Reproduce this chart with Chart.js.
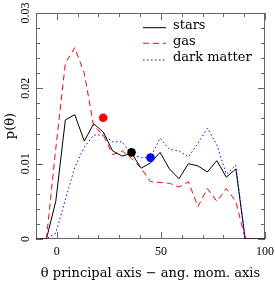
<!DOCTYPE html>
<html>
<head>
<meta charset="utf-8">
<script src="https://cdn.jsdelivr.net/npm/chart.js@4.4.1/dist/chart.umd.min.js"></script>
<style>
  html, body { margin: 0; padding: 0; background: #fff; }
  canvas { display: block; }
</style>
</head>
<body>
<canvas id="c" width="275" height="281"></canvas>
<script>
  // bin positions (deg) and normalised distributions
  const theta = [-10, -5, -0.5, 4.1, 8.6, 13.2, 17.7, 22.3, 26.8, 31.4, 35.9, 40.5, 45, 49.6, 54.1, 58.7, 63.2, 67.8, 72.3, 76.9, 81.4, 86, 90.5, 100];
  const stars = [0, 0, 0.0050, 0.0158, 0.0165, 0.0130, 0.0153, 0.0142, 0.0117, 0.0110, 0.0114, 0.0094, 0.0101, 0.0115, 0.0093, 0.0080, 0.0100, 0.0097, 0.0089, 0.0104, 0.0082, 0.0093, 0, 0];
  const gas = [0, 0, 0.0120, 0.0233, 0.0254, 0.0220, 0.0150, 0.0138, 0.0112, 0.0117, 0.0107, 0.0094, 0.0076, 0.0075, 0.0074, 0.0069, 0.0076, 0.0043, 0.0067, 0.0050, 0.0067, 0.0050, 0, 0];
  const darkMatter = [0, 0, 0.0008, 0.0052, 0.0095, 0.0122, 0.0138, 0.0138, 0.0129, 0.0129, 0.0112, 0.0108, 0.0108, 0.0134, 0.0119, 0.0117, 0.0109, 0.0127, 0.0147, 0.0125, 0.0086, 0.0098, 0, 0];

  // mean angles (big dots): gas, stars, dark matter
  const meanTheta = [22.3, 35.9, 45];
  const meanP = [0.0161, 0.0115, 0.0108];
  const meanColors = ['#ff0000', '#000000', '#0000ff'];

  const xTickLabels = [0, 50, 100];
  const xMinorTicks = [-10, 10, 20, 30, 40, 60, 70, 80, 90];
  const yTickLabels = [0, 0.01, 0.02, 0.03];
  const yMinorTicks = [0.002, 0.004, 0.006, 0.008, 0.012, 0.014, 0.016, 0.018, 0.022, 0.024, 0.026, 0.028];

  const pts = (ys) => theta.map((t, i) => ({ x: t, y: ys[i] }));

  // frame + inward ticks on all four sides
  const frame = {
    id: 'frame',
    beforeDatasetsDraw(chart) {
      const { ctx, chartArea: a, scales: { x, y } } = chart;
      ctx.save();
      ctx.strokeStyle = '#666';
      ctx.lineWidth = 1;
      ctx.strokeRect(a.left + 0.5, a.top + 0.5, a.right - a.left - 1, a.bottom - a.top - 1);
      ctx.beginPath();
      const xt = (v, len) => {
        const px = Math.round(x.getPixelForValue(v)) + 0.5;
        ctx.moveTo(px, a.bottom); ctx.lineTo(px, a.bottom - len);
        ctx.moveTo(px, a.top); ctx.lineTo(px, a.top + len);
      };
      const yt = (v, len) => {
        const py = Math.round(y.getPixelForValue(v)) + 0.5;
        ctx.moveTo(a.left, py); ctx.lineTo(a.left + len, py);
        ctx.moveTo(a.right, py); ctx.lineTo(a.right - len, py);
      };
      xTickLabels.forEach((v) => xt(v, 7));
      xMinorTicks.forEach((v) => xt(v, 4));
      yTickLabels.forEach((v) => yt(v, 7));
      yMinorTicks.forEach((v) => yt(v, 4));
      ctx.stroke();
      ctx.restore();
    },
  };

  // legend in the upper right of the plot box
  const boxLegend = {
    id: 'boxLegend',
    afterDraw(chart) {
      const { ctx, chartArea: a } = chart;
      const rows = [
        { ds: chart.data.datasets[3], line: 14.7, base: 16 },
        { ds: chart.data.datasets[2], line: 30.3, base: 32 },
        { ds: chart.data.datasets[1], line: 47, base: 47.7 },
      ];
      ctx.save();
      ctx.font = '13px "DejaVu Serif"';
      ctx.textBaseline = 'alphabetic';
      ctx.textAlign = 'left';
      ctx.fillStyle = '#000';
      rows.forEach((r) => {
        ctx.strokeStyle = r.ds.borderColor;
        ctx.lineWidth = 1;
        ctx.setLineDash(r.ds.borderDash || []);
        ctx.beginPath();
        ctx.moveTo(a.right - 122, a.top + r.line);
        ctx.lineTo(a.right - 99, a.top + r.line);
        ctx.stroke();
        ctx.fillText(r.ds.label, a.right - 92, a.top + r.base);
      });
      ctx.restore();
    },
  };

  Chart.defaults.font.family = '"Liberation Serif"';
  Chart.defaults.font.size = 12;
  Chart.defaults.color = '#000';

  new Chart(document.getElementById('c'), {
    type: 'scatter',
    data: {
      datasets: [
        {
          label: 'mean',
          data: meanTheta.map((t, i) => ({ x: t, y: meanP[i] })),
          pointRadius: 4.3,
          pointBackgroundColor: meanColors,
          pointBorderWidth: 0,
          showLine: false,
          order: 0,
        },
        {
          label: 'dark matter',
          data: pts(darkMatter),
          showLine: true,
          borderColor: '#0000ff',
          borderWidth: 1,
          borderDash: [1.5, 2.5],
          pointRadius: 0,
          order: 1,
        },
        {
          label: 'gas',
          data: pts(gas),
          showLine: true,
          borderColor: '#ff0000',
          borderWidth: 1,
          borderDash: [6, 4],
          pointRadius: 0,
          order: 2,
        },
        {
          label: 'stars',
          data: pts(stars),
          showLine: true,
          borderColor: '#000000',
          borderWidth: 1,
          pointRadius: 0,
          order: 3,
        },
      ],
    },
    options: {
      responsive: false,
      animation: false,
      layout: { padding: { top: 13, right: 10, left: 0, bottom: 0 } },
      plugins: { legend: { display: false }, tooltip: { enabled: false } },
      scales: {
        x: {
          type: 'linear',
          min: -10,
          max: 100,
          grid: { display: false, drawTicks: false },
          border: { display: false },
          afterBuildTicks: (s) => { s.ticks = xTickLabels.map((v) => ({ value: v })); },
          afterFit: (s) => { s.height = 42; s.paddingLeft = 0; s.paddingRight = 0; },
          ticks: { padding: 6, maxRotation: 0, autoSkip: false },
          title: {
            display: true,
            text: 'θ principal axis − ang. mom. axis',
            font: { family: '"DejaVu Serif"', size: 13 },
            padding: { top: 0, bottom: 0 },
          },
        },
        y: {
          min: 0,
          max: 0.03,
          grid: { display: false, drawTicks: false },
          border: { display: false },
          afterBuildTicks: (s) => { s.ticks = yTickLabels.map((v) => ({ value: v })); },
          afterFit: (s) => { s.width = 36; s.paddingTop = 0; s.paddingBottom = 0; },
          ticks: {
            minRotation: 90,
            maxRotation: 90,
            crossAlign: 'center',
            padding: 0,
            autoSkip: false,
            callback: (v) => String(v),
          },
          title: {
            display: true,
            text: 'p(θ)',
            font: { family: '"DejaVu Serif"', size: 13 },
            padding: { top: 3, bottom: 0 },
          },
        },
      },
    },
    plugins: [frame, boxLegend],
  });
</script>
</body>
</html>
